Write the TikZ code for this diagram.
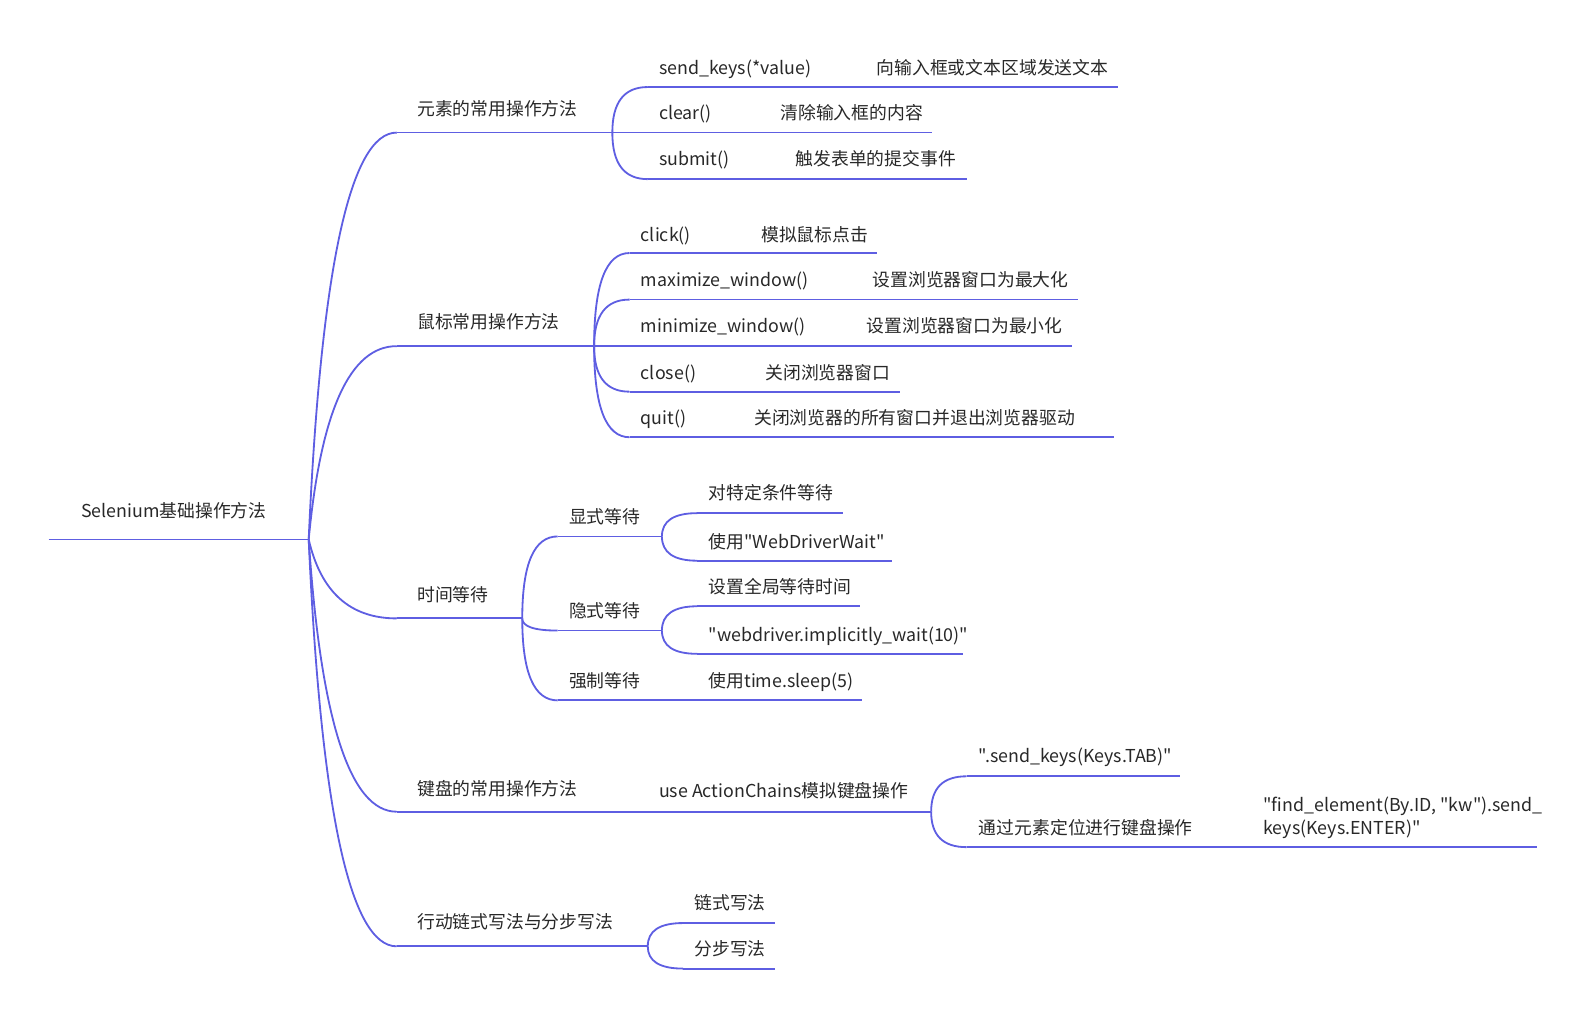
\documentclass[tikz,border=0pt]{standalone}
\usepackage{fontspec}
\newfontfamily\mf{Noto Sans CJK SC}
\usetikzlibrary{calc}
\definecolor{lc}{RGB}{94,94,226}
\definecolor{tc}{RGB}{40,40,40}
\tikzset{
  ln/.style={draw=lc,line width=1.8pt},
  lbl/.style={anchor=base west,inner sep=0pt,text=tc,font=\mf\fontsize{17.6}{23}\selectfont},
}
\newcommand\tp[7]{%
  \coordinate (#1s) at (#2,#4);
  \coordinate (#1e) at (#3,#4);
  \draw[ln] (#1s) -- (#1e);
  \node[lbl] (#1) at (#5,{#6+6.5}) {#7};}
\newcommand\conn[3]{%
  \draw[ln] let \p1=(#1), \p2=(#2) in (\p1) .. controls ({\x1+0.667*#3pt},{\y1+0.667*(\y2-\y1)}) and ({\x2+0.667*(\x1+#3pt-\x2)},\y2) .. (\p2);}
\begin{document}
\begin{tikzpicture}[x=1pt,y=-1pt]
\useasboundingbox (0,0) rectangle (1568,1008);
% root
\coordinate (Rs) at (48,533);
\coordinate (Re) at (305,533);
\draw[ln] (Rs) -- (Re);
\node[lbl] (R) at (80,{505+6.5}) {Selenium基础操作方法};
% level 1
\tp{A}{392}{605}{131}{412}{108}{元素的常用操作方法}
\tp{B}{392}{587}{342}{412}{318}{鼠标常用操作方法}
\tp{C}{392}{516}{611}{412}{588}{时间等待}
\tp{D}{392}{630}{802}{412}{779}{键盘的常用操作方法}
\tp{E}{392}{640}{935}{412}{911}{行动链式写法与分步写法}
\foreach \q in {A,B,C,D,E} {\conn{Re}{\q s}{18}}
% A children
\tp{A1}{640}{845}{86}{651}{67}{send\_keys(*value)}
\tp{A1d}{845}{1105}{86}{866}{67}{向输入框或文本区域发送文本}
\tp{A2}{605}{750}{131}{651}{112}{clear()}
\tp{A2d}{750}{921}{131}{771}{112}{清除输入框的内容}
\tp{A3}{640}{765}{177}{651}{157}{submit()}
\tp{A3d}{765}{955}{177}{786}{157}{触发表单的提交事件}
\conn{Ae}{A1s}{0}
\conn{Ae}{A3s}{0}
% B children
\tp{B1}{622}{730}{250}{633}{232}{click()}
\tp{B1d}{730}{866}{250}{752}{232}{模拟鼠标点击}
\tp{B2}{622}{840}{296}{633}{277}{maximize\_window()}
\tp{B2d}{840}{1065}{296}{862}{277}{设置浏览器窗口为最大化}
\tp{B3}{587}{835}{342}{633}{322}{minimize\_window()}
\tp{B3d}{835}{1059}{342}{856}{322}{设置浏览器窗口为最小化}
\tp{B4}{622}{735}{387}{633}{368}{close()}
\tp{B4d}{735}{889}{387}{756}{368}{关闭浏览器窗口}
\tp{B5}{622}{725}{432}{633}{413}{quit()}
\tp{B5d}{725}{1101}{432}{745}{413}{关闭浏览器的所有窗口并退出浏览器驱动}
\foreach \q in {B1,B2,B4,B5} {\conn{Be}{\q s}{0}}
% C children
\tp{C1}{551}{654}{530}{562}{511}{显式等待}
\tp{C1a}{689}{833}{507}{700}{487}{对特定条件等待}
\tp{C1b}{689}{881}{554}{700}{535}{使用"WebDriverWait"}
\tp{C2}{551}{654}{623}{562}{604}{隐式等待}
\tp{C2a}{689}{850}{599}{700}{580}{设置全局等待时间}
\tp{C2b}{689}{951}{646}{700}{627}{"webdriver.implicitly\_wait(10)"}
\tp{C3}{551}{680}{692}{562}{673}{强制等待}
\tp{C3a}{680}{852}{692}{700}{673}{使用time.sleep(5)}
\foreach \q in {C1,C2,C3} {\conn{Ce}{\q s}{0}}
\conn{C1e}{C1as}{0}
\conn{C1e}{C1bs}{0}
\conn{C2e}{C2as}{0}
\conn{C2e}{C2bs}{0}
% D children
\tp{D1}{630}{920}{802}{651}{781}{use ActionChains模拟键盘操作}
\tp{D1a}{955}{1166}{767}{967}{747}{".send\_keys(Keys.TAB)"}
\tp{D1b}{955}{1225}{837}{967}{818}{通过元素定位进行键盘操作}
\coordinate (D1cs) at (1225,837);
\coordinate (D1ce) at (1519,837);
\draw[ln] (D1cs) -- (D1ce);
\node[lbl,align=left] (D1c) at (1248,{818+6.5}) {"find\_element(By.ID, "kw").send\_\\keys(Keys.ENTER)"};
\conn{D1e}{D1as}{0}
\conn{D1e}{D1bs}{0}
% E children
\tp{E1}{675}{766}{912}{686}{892}{链式写法}
\tp{E2}{675}{766}{957}{686}{938}{分步写法}
\conn{Ee}{E1s}{0}
\conn{Ee}{E2s}{0}
\end{tikzpicture}
\end{document}
